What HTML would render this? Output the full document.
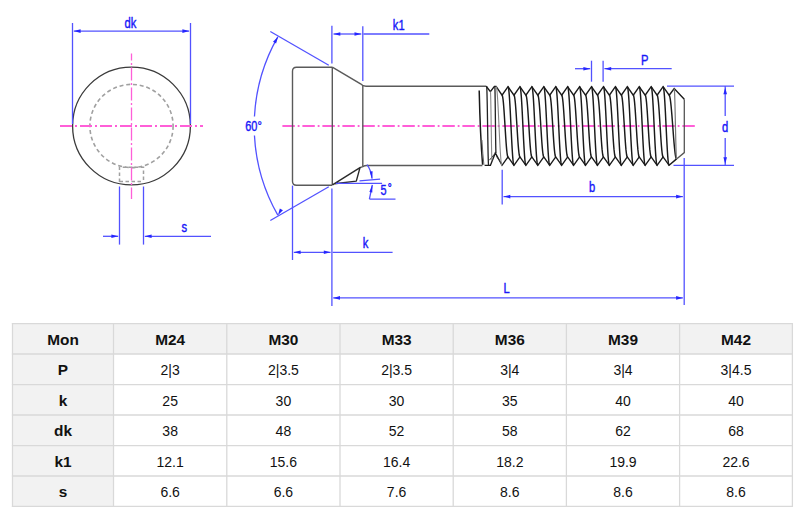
<!DOCTYPE html>
<html><head><meta charset="utf-8"><style>
html,body{margin:0;padding:0;background:#fff;}
body{width:800px;height:522px;overflow:hidden;}
svg{display:block;font-family:"Liberation Sans",sans-serif;}
</style></head><body>
<svg width="800" height="522" viewBox="0 0 800 522">
<rect width="800" height="522" fill="#fff"/>
<circle cx="131.5" cy="126" r="58.9" fill="none" stroke="#3a3a3a" stroke-width="1.3"/>
<circle cx="131.5" cy="126" r="41.6" fill="none" stroke="#a0a0a0" stroke-width="1.6" stroke-dasharray="4 2.8"/>
<path d="M119.5,182 V167.2 H143.5 V182 M119.5,181.6 H143.5" fill="none" stroke="#a0a0a0" stroke-width="1.5" stroke-dasharray="3.5 2.5"/>
<line x1="60" y1="126" x2="203" y2="126" stroke="#ff5fd8" stroke-width="1.8" stroke-dasharray="12 3 2 3"/>
<line x1="131.5" y1="53.4" x2="131.5" y2="199" stroke="#ff5fd8" stroke-width="1.3" stroke-dasharray="13 2.5 2 2.5" stroke-dashoffset="5.9"/>
<line x1="72.5" y1="23" x2="72.5" y2="124" stroke="#5252ff" stroke-width="1.3" />
<line x1="190.5" y1="23" x2="190.5" y2="124" stroke="#5252ff" stroke-width="1.3" />
<line x1="73.8" y1="31.1" x2="189.2" y2="31.1" stroke="#5252ff" stroke-width="1.3" />
<polygon points="73.80,31.10 80.60,29.30 80.60,32.90" fill="#2626ff"/>
<polygon points="189.20,31.10 182.40,32.90 182.40,29.30" fill="#2626ff"/>
<text transform="translate(130.5,27.5) scale(0.8,1)" font-size="14" fill="#1818f8" stroke="#1818f8" stroke-width="0.4" text-anchor="middle" font-weight="normal">dk</text>
<line x1="119.5" y1="186.5" x2="119.5" y2="244.6" stroke="#5252ff" stroke-width="1.3" />
<line x1="143.5" y1="186.5" x2="143.5" y2="244.6" stroke="#5252ff" stroke-width="1.3" />
<line x1="103" y1="236.3" x2="118.2" y2="236.3" stroke="#5252ff" stroke-width="1.3" />
<line x1="144.8" y1="236.3" x2="211" y2="236.3" stroke="#5252ff" stroke-width="1.3" />
<polygon points="118.20,236.30 111.40,238.10 111.40,234.50" fill="#2626ff"/>
<polygon points="144.80,236.30 151.60,234.50 151.60,238.10" fill="#2626ff"/>
<text transform="translate(184.4,232) scale(0.8,1)" font-size="14" fill="#1818f8" stroke="#1818f8" stroke-width="0.4" text-anchor="middle" font-weight="normal">s</text>
<line x1="282.4" y1="126" x2="696" y2="126" stroke="#ff5fd8" stroke-width="1.8" stroke-dasharray="12.4 2.9 1.8 2.9" stroke-dashoffset="0"/>
<path d="M332.3,67.2 H296.5 Q292.5,67.2 292.5,71.2 V181.3 Q292.5,185.3 296.5,185.3 H332.3" fill="none" stroke="#5a5a5a" stroke-width="1.4"/>
<line x1="332.3" y1="67.2" x2="332.3" y2="185" stroke="#5a5a5a" stroke-width="1.4" />
<path d="M332.3,67.2 L360.5,83.8 Q362.8,86.2 366,86.2 H486.2" fill="none" stroke="#5a5a5a" stroke-width="1.4"/>
<line x1="362.8" y1="85" x2="362.8" y2="166.6" stroke="#5a5a5a" stroke-width="1.4" />
<path d="M360,167.6 L362.8,166.6 Q364.5,165.5 367,165.5 H482.4" fill="none" stroke="#5a5a5a" stroke-width="1.4"/>
<path d="M332.5,184.8 L360,167.6 L356.3,181.1 L334.5,183.8" fill="none" stroke="#2a2a2a" stroke-width="1.4" stroke-linejoin="round"/>
<line x1="331.9" y1="25.8" x2="331.9" y2="63.5" stroke="#5252ff" stroke-width="1.3" />
<line x1="362.8" y1="26.2" x2="362.8" y2="81" stroke="#5252ff" stroke-width="1.3" />
<line x1="333.5" y1="34" x2="361.3" y2="34" stroke="#5252ff" stroke-width="1.3" />
<line x1="363.4" y1="34" x2="429.3" y2="34" stroke="#5252ff" stroke-width="1.3" />
<polygon points="333.50,34.00 340.30,32.20 340.30,35.80" fill="#2626ff"/>
<polygon points="361.30,34.00 354.50,35.80 354.50,32.20" fill="#2626ff"/>
<text transform="translate(398.7,29.5) scale(0.8,1)" font-size="14" fill="#1818f8" stroke="#1818f8" stroke-width="0.4" text-anchor="middle" font-weight="normal">k1</text>
<line x1="328.78" y1="65.25" x2="270.32" y2="31.5" stroke="#5252ff" stroke-width="1.3" />
<line x1="328.78" y1="186.75" x2="270.32" y2="220.5" stroke="#5252ff" stroke-width="1.3" />
<path d="M277.82,36.92 A179.8,179.8 0 0 0 254.45,116.59" fill="none" stroke="#5252ff" stroke-width="1.3"/>
<path d="M254.45,135.41 A179.8,179.8 0 0 0 277.82,215.08" fill="none" stroke="#5252ff" stroke-width="1.3"/>
<polygon points="277.98,36.64 276.13,43.43 273.02,41.63" fill="#2626ff"/>
<polygon points="277.98,215.36 279.82,208.57 282.93,210.37" fill="#2626ff"/>
<text transform="translate(253.5,131) scale(0.78,1)" font-size="14" fill="#1818f8" stroke="#1818f8" stroke-width="0.4" text-anchor="middle" font-weight="normal">60°</text>
<line x1="335.8" y1="183.3" x2="382.1" y2="183.3" stroke="#5252ff" stroke-width="1.3" />
<line x1="359.5" y1="180.9" x2="380.1" y2="179.2" stroke="#5252ff" stroke-width="1.3" />
<path d="M367,164.6 Q371.3,170.5 372,178.5" fill="none" stroke="#5252ff" stroke-width="1.3"/>
<polygon points="372.10,179.30 369.66,171.54 372.64,171.18" fill="#2626ff"/>
<path d="M369.4,199.1 L372.3,185 M369.4,199.1 H395.5" fill="none" stroke="#5252ff" stroke-width="1.3"/>
<polygon points="372.40,184.40 372.30,192.54 369.36,191.95" fill="#2626ff"/>
<text transform="translate(383.5,194.8) scale(0.78,1)" font-size="14" fill="#1818f8" stroke="#1818f8" stroke-width="0.4" text-anchor="middle" font-weight="normal">5</text>
<text transform="translate(389.8,191) scale(0.9,1)" font-size="11" fill="#1818f8" stroke="#1818f8" stroke-width="0.4" text-anchor="middle" font-weight="normal">°</text>
<line x1="292.5" y1="185.6" x2="292.5" y2="260" stroke="#5252ff" stroke-width="1.3" />
<line x1="331.9" y1="188.5" x2="331.9" y2="306" stroke="#5252ff" stroke-width="1.3" />
<line x1="293.8" y1="252.3" x2="330.6" y2="252.3" stroke="#5252ff" stroke-width="1.3" />
<line x1="332.6" y1="252.3" x2="392.6" y2="252.3" stroke="#5252ff" stroke-width="1.3" />
<polygon points="293.80,252.30 300.60,250.50 300.60,254.10" fill="#2626ff"/>
<polygon points="330.60,252.30 323.80,254.10 323.80,250.50" fill="#2626ff"/>
<text transform="translate(365.5,248) scale(0.8,1)" font-size="14" fill="#1818f8" stroke="#1818f8" stroke-width="0.4" text-anchor="middle" font-weight="normal">k</text>
<line x1="333.2" y1="297.9" x2="682.9" y2="297.9" stroke="#5252ff" stroke-width="1.3" />
<polygon points="333.20,297.90 340.00,296.10 340.00,299.70" fill="#2626ff"/>
<polygon points="682.90,297.90 676.10,299.70 676.10,296.10" fill="#2626ff"/>
<text transform="translate(506.7,292.7) scale(0.8,1)" font-size="14" fill="#1818f8" stroke="#1818f8" stroke-width="0.4" text-anchor="middle" font-weight="normal">L</text>
<line x1="684.2" y1="158" x2="684.2" y2="305" stroke="#5252ff" stroke-width="1.3" />
<line x1="502.2" y1="169.7" x2="502.2" y2="204.5" stroke="#5252ff" stroke-width="1.3" />
<line x1="503.5" y1="196.6" x2="682.9" y2="196.6" stroke="#5252ff" stroke-width="1.3" />
<polygon points="503.50,196.60 510.30,194.80 510.30,198.40" fill="#2626ff"/>
<polygon points="682.90,196.60 676.10,198.40 676.10,194.80" fill="#2626ff"/>
<text transform="translate(592,192) scale(0.8,1)" font-size="14" fill="#1818f8" stroke="#1818f8" stroke-width="0.4" text-anchor="middle" font-weight="normal">b</text>
<line x1="667" y1="86.1" x2="734" y2="86.1" stroke="#5252ff" stroke-width="1.3" />
<line x1="673.5" y1="165.4" x2="734" y2="165.4" stroke="#5252ff" stroke-width="1.3" />
<line x1="725.2" y1="86.1" x2="725.2" y2="116" stroke="#5252ff" stroke-width="1.3" />
<line x1="725.2" y1="138" x2="725.2" y2="165.4" stroke="#5252ff" stroke-width="1.3" />
<polygon points="725.20,87.40 727.00,94.20 723.40,94.20" fill="#2626ff"/>
<polygon points="725.20,164.10 723.40,157.30 727.00,157.30" fill="#2626ff"/>
<text transform="translate(725,131.5) scale(0.8,1)" font-size="14" fill="#1818f8" stroke="#1818f8" stroke-width="0.4" text-anchor="middle" font-weight="normal">d</text>
<line x1="591.5" y1="60.7" x2="591.5" y2="81.7" stroke="#5252ff" stroke-width="1.3" />
<line x1="603.1" y1="60.7" x2="603.1" y2="81.7" stroke="#5252ff" stroke-width="1.3" />
<line x1="575" y1="68.7" x2="590.2" y2="68.7" stroke="#5252ff" stroke-width="1.3" />
<line x1="604.4" y1="68.7" x2="671.7" y2="68.7" stroke="#5252ff" stroke-width="1.3" />
<polygon points="590.20,68.70 583.40,70.50 583.40,66.90" fill="#2626ff"/>
<polygon points="604.40,68.70 611.20,66.90 611.20,70.50" fill="#2626ff"/>
<text transform="translate(644.7,64.5) scale(0.8,1)" font-size="14" fill="#1818f8" stroke="#1818f8" stroke-width="0.4" text-anchor="middle" font-weight="normal">P</text>
<polyline points="486.20,86.30 490.40,91.60 494.40,86.40 496.10,86.40 502.04,95.20 508.00,86.70 513.96,95.20 519.93,86.70 525.89,95.20 531.86,86.70 537.82,95.20 543.79,86.70 549.75,95.20 555.72,86.70 561.68,95.20 567.65,86.70 573.61,95.20 579.58,86.70 585.54,95.20 591.51,86.70 597.48,95.20 603.44,86.70 609.40,95.20 615.37,86.70 621.33,95.20 627.30,86.70 633.26,95.20 639.23,86.70 645.19,95.20 651.16,86.70 657.12,95.20 663.09,86.70 669.20,95.20 674.20,88.60 684.30,99.20" fill="none" stroke="#1a1a1a" stroke-width="1.4" stroke-linejoin="miter"/>
<path d="M684.3,99.2 V152.6 L676.6,158.9" fill="none" stroke="#555" stroke-width="1.3"/>
<polyline points="484.60,165.40 490.40,165.40 495.30,153.00 502.03,165.30 508.00,156.90 513.97,165.30 519.93,156.90 525.89,165.30 531.86,156.90 537.83,165.30 543.79,156.90 549.75,165.30 555.72,156.90 561.69,165.30 567.65,156.90 573.62,165.30 579.58,156.90 585.54,165.30 591.51,156.90 597.48,165.30 603.44,156.90 609.41,165.30 615.37,156.90 621.34,165.30 627.30,156.90 633.26,165.30 639.23,156.90 645.20,165.30 651.16,156.90 657.12,165.30 663.09,156.90 669.10,165.30 676.60,158.90" fill="none" stroke="#1a1a1a" stroke-width="1.4"/>
<path d="M489.4,160.2 L494.4,154.2 M496.4,156.4 L501.3,162.8" fill="none" stroke="#333" stroke-width="1"/>
<path d="M502.03,95.20 L502.37,95.67 L502.70,97.06 L503.03,99.33 L503.36,102.42 L503.69,106.22 L504.02,110.62 L504.35,115.50 L504.69,120.69 L505.02,126.05 L505.35,131.41 L505.68,136.60 L506.01,141.47 L506.34,145.88 L506.67,149.68 L507.01,152.77 L507.34,155.04 L507.67,156.43 L508.00,156.90 M508.00,86.70 L508.33,87.30 L508.66,89.07 L508.99,91.97 L509.33,95.89 L509.66,100.74 L509.99,106.35 L510.32,112.56 L510.65,119.18 L510.98,126.00 L511.31,132.82 L511.65,139.44 L511.98,145.65 L512.31,151.26 L512.64,156.11 L512.97,160.03 L513.30,162.93 L513.63,164.70 L513.97,165.30 M513.97,95.20 L514.30,95.67 L514.63,97.06 L514.96,99.33 L515.29,102.42 L515.62,106.22 L515.95,110.62 L516.28,115.50 L516.62,120.69 L516.95,126.05 L517.28,131.41 L517.61,136.60 L517.94,141.47 L518.27,145.88 L518.60,149.68 L518.94,152.77 L519.27,155.04 L519.60,156.43 L519.93,156.90 M519.93,86.70 L520.26,87.30 L520.59,89.07 L520.92,91.97 L521.26,95.89 L521.59,100.74 L521.92,106.35 L522.25,112.56 L522.58,119.18 L522.91,126.00 L523.24,132.82 L523.58,139.44 L523.91,145.65 L524.24,151.26 L524.57,156.11 L524.90,160.03 L525.23,162.93 L525.56,164.70 L525.89,165.30 M525.89,95.20 L526.23,95.67 L526.56,97.06 L526.89,99.33 L527.22,102.42 L527.55,106.22 L527.88,110.62 L528.21,115.50 L528.55,120.69 L528.88,126.05 L529.21,131.41 L529.54,136.60 L529.87,141.47 L530.20,145.88 L530.53,149.68 L530.87,152.77 L531.20,155.04 L531.53,156.43 L531.86,156.90 M531.86,86.70 L532.19,87.30 L532.52,89.07 L532.85,91.97 L533.19,95.89 L533.52,100.74 L533.85,106.35 L534.18,112.56 L534.51,119.18 L534.84,126.00 L535.17,132.82 L535.51,139.44 L535.84,145.65 L536.17,151.26 L536.50,156.11 L536.83,160.03 L537.16,162.93 L537.49,164.70 L537.83,165.30 M537.83,95.20 L538.16,95.67 L538.49,97.06 L538.82,99.33 L539.15,102.42 L539.48,106.22 L539.81,110.62 L540.14,115.50 L540.48,120.69 L540.81,126.05 L541.14,131.41 L541.47,136.60 L541.80,141.47 L542.13,145.88 L542.46,149.68 L542.80,152.77 L543.13,155.04 L543.46,156.43 L543.79,156.90 M543.79,86.70 L544.12,87.30 L544.45,89.07 L544.78,91.97 L545.12,95.89 L545.45,100.74 L545.78,106.35 L546.11,112.56 L546.44,119.18 L546.77,126.00 L547.10,132.82 L547.44,139.44 L547.77,145.65 L548.10,151.26 L548.43,156.11 L548.76,160.03 L549.09,162.93 L549.42,164.70 L549.75,165.30 M549.75,95.20 L550.09,95.67 L550.42,97.06 L550.75,99.33 L551.08,102.42 L551.41,106.22 L551.74,110.62 L552.07,115.50 L552.41,120.69 L552.74,126.05 L553.07,131.41 L553.40,136.60 L553.73,141.47 L554.06,145.88 L554.39,149.68 L554.73,152.77 L555.06,155.04 L555.39,156.43 L555.72,156.90 M555.72,86.70 L556.05,87.30 L556.38,89.07 L556.71,91.97 L557.05,95.89 L557.38,100.74 L557.71,106.35 L558.04,112.56 L558.37,119.18 L558.70,126.00 L559.03,132.82 L559.37,139.44 L559.70,145.65 L560.03,151.26 L560.36,156.11 L560.69,160.03 L561.02,162.93 L561.35,164.70 L561.69,165.30 M561.69,95.20 L562.02,95.67 L562.35,97.06 L562.68,99.33 L563.01,102.42 L563.34,106.22 L563.67,110.62 L564.00,115.50 L564.34,120.69 L564.67,126.05 L565.00,131.41 L565.33,136.60 L565.66,141.47 L565.99,145.88 L566.32,149.68 L566.66,152.77 L566.99,155.04 L567.32,156.43 L567.65,156.90 M567.65,86.70 L567.98,87.30 L568.31,89.07 L568.64,91.97 L568.98,95.89 L569.31,100.74 L569.64,106.35 L569.97,112.56 L570.30,119.18 L570.63,126.00 L570.96,132.82 L571.30,139.44 L571.63,145.65 L571.96,151.26 L572.29,156.11 L572.62,160.03 L572.95,162.93 L573.28,164.70 L573.62,165.30 M573.62,95.20 L573.95,95.67 L574.28,97.06 L574.61,99.33 L574.94,102.42 L575.27,106.22 L575.60,110.62 L575.93,115.50 L576.27,120.69 L576.60,126.05 L576.93,131.41 L577.26,136.60 L577.59,141.47 L577.92,145.88 L578.25,149.68 L578.59,152.77 L578.92,155.04 L579.25,156.43 L579.58,156.90 M579.58,86.70 L579.91,87.30 L580.24,89.07 L580.57,91.97 L580.91,95.89 L581.24,100.74 L581.57,106.35 L581.90,112.56 L582.23,119.18 L582.56,126.00 L582.89,132.82 L583.23,139.44 L583.56,145.65 L583.89,151.26 L584.22,156.11 L584.55,160.03 L584.88,162.93 L585.21,164.70 L585.54,165.30 M585.54,95.20 L585.88,95.67 L586.21,97.06 L586.54,99.33 L586.87,102.42 L587.20,106.22 L587.53,110.62 L587.86,115.50 L588.20,120.69 L588.53,126.05 L588.86,131.41 L589.19,136.60 L589.52,141.47 L589.85,145.88 L590.18,149.68 L590.52,152.77 L590.85,155.04 L591.18,156.43 L591.51,156.90 M591.51,86.70 L591.84,87.30 L592.17,89.07 L592.50,91.97 L592.84,95.89 L593.17,100.74 L593.50,106.35 L593.83,112.56 L594.16,119.18 L594.49,126.00 L594.82,132.82 L595.16,139.44 L595.49,145.65 L595.82,151.26 L596.15,156.11 L596.48,160.03 L596.81,162.93 L597.14,164.70 L597.48,165.30 M597.48,95.20 L597.81,95.67 L598.14,97.06 L598.47,99.33 L598.80,102.42 L599.13,106.22 L599.46,110.62 L599.79,115.50 L600.13,120.69 L600.46,126.05 L600.79,131.41 L601.12,136.60 L601.45,141.47 L601.78,145.88 L602.11,149.68 L602.45,152.77 L602.78,155.04 L603.11,156.43 L603.44,156.90 M603.44,86.70 L603.77,87.30 L604.10,89.07 L604.43,91.97 L604.77,95.89 L605.10,100.74 L605.43,106.35 L605.76,112.56 L606.09,119.18 L606.42,126.00 L606.75,132.82 L607.09,139.44 L607.42,145.65 L607.75,151.26 L608.08,156.11 L608.41,160.03 L608.74,162.93 L609.07,164.70 L609.41,165.30 M609.41,95.20 L609.74,95.67 L610.07,97.06 L610.40,99.33 L610.73,102.42 L611.06,106.22 L611.39,110.62 L611.72,115.50 L612.06,120.69 L612.39,126.05 L612.72,131.41 L613.05,136.60 L613.38,141.47 L613.71,145.88 L614.04,149.68 L614.38,152.77 L614.71,155.04 L615.04,156.43 L615.37,156.90 M615.37,86.70 L615.70,87.30 L616.03,89.07 L616.36,91.97 L616.70,95.89 L617.03,100.74 L617.36,106.35 L617.69,112.56 L618.02,119.18 L618.35,126.00 L618.68,132.82 L619.02,139.44 L619.35,145.65 L619.68,151.26 L620.01,156.11 L620.34,160.03 L620.67,162.93 L621.00,164.70 L621.34,165.30 M621.34,95.20 L621.67,95.67 L622.00,97.06 L622.33,99.33 L622.66,102.42 L622.99,106.22 L623.32,110.62 L623.65,115.50 L623.99,120.69 L624.32,126.05 L624.65,131.41 L624.98,136.60 L625.31,141.47 L625.64,145.88 L625.97,149.68 L626.31,152.77 L626.64,155.04 L626.97,156.43 L627.30,156.90 M627.30,86.70 L627.63,87.30 L627.96,89.07 L628.29,91.97 L628.63,95.89 L628.96,100.74 L629.29,106.35 L629.62,112.56 L629.95,119.18 L630.28,126.00 L630.61,132.82 L630.95,139.44 L631.28,145.65 L631.61,151.26 L631.94,156.11 L632.27,160.03 L632.60,162.93 L632.93,164.70 L633.26,165.30 M633.26,95.20 L633.60,95.67 L633.93,97.06 L634.26,99.33 L634.59,102.42 L634.92,106.22 L635.25,110.62 L635.58,115.50 L635.92,120.69 L636.25,126.05 L636.58,131.41 L636.91,136.60 L637.24,141.47 L637.57,145.88 L637.90,149.68 L638.24,152.77 L638.57,155.04 L638.90,156.43 L639.23,156.90 M639.23,86.70 L639.56,87.30 L639.89,89.07 L640.22,91.97 L640.56,95.89 L640.89,100.74 L641.22,106.35 L641.55,112.56 L641.88,119.18 L642.21,126.00 L642.54,132.82 L642.88,139.44 L643.21,145.65 L643.54,151.26 L643.87,156.11 L644.20,160.03 L644.53,162.93 L644.86,164.70 L645.20,165.30 M645.20,95.20 L645.53,95.67 L645.86,97.06 L646.19,99.33 L646.52,102.42 L646.85,106.22 L647.18,110.62 L647.51,115.50 L647.85,120.69 L648.18,126.05 L648.51,131.41 L648.84,136.60 L649.17,141.47 L649.50,145.88 L649.83,149.68 L650.17,152.77 L650.50,155.04 L650.83,156.43 L651.16,156.90 M651.16,86.70 L651.49,87.30 L651.82,89.07 L652.15,91.97 L652.49,95.89 L652.82,100.74 L653.15,106.35 L653.48,112.56 L653.81,119.18 L654.14,126.00 L654.47,132.82 L654.81,139.44 L655.14,145.65 L655.47,151.26 L655.80,156.11 L656.13,160.03 L656.46,162.93 L656.79,164.70 L657.12,165.30 M657.12,95.20 L657.46,95.67 L657.79,97.06 L658.12,99.33 L658.45,102.42 L658.78,106.22 L659.11,110.62 L659.44,115.50 L659.78,120.69 L660.11,126.05 L660.44,131.41 L660.77,136.60 L661.10,141.47 L661.43,145.88 L661.76,149.68 L662.10,152.77 L662.43,155.04 L662.76,156.43 L663.09,156.90 M663.09,86.70 L663.42,87.30 L663.75,89.07 L664.08,91.97 L664.42,95.89 L664.75,100.74 L665.08,106.35 L665.41,112.56 L665.74,119.18 L666.07,126.00 L666.40,132.82 L666.74,139.44 L667.07,145.65 L667.40,151.26 L667.73,156.11 L668.06,160.03 L668.39,162.93 L668.72,164.70 L669.05,165.30 M669.05,95.20 L669.47,95.68 L669.89,97.12 L670.30,99.47 L670.72,102.65 L671.14,106.58 L671.55,111.12 L671.97,116.16 L672.39,121.52 L672.80,127.05 L673.22,132.58 L673.64,137.94 L674.05,142.97 L674.47,147.52 L674.89,151.45 L675.30,154.63 L675.72,156.98 L676.14,158.42 L676.55,158.90" fill="none" stroke="#1a1a1a" stroke-width="1.45"/>
<path d="M486.60,86.30 L486.71,86.90 L486.82,88.69 L486.93,91.60 L487.04,95.55 L487.16,100.43 L487.27,106.07 L487.38,112.32 L487.49,118.98 L487.60,125.85 L487.71,132.72 L487.82,139.38 L487.93,145.62 L488.04,151.27 L488.16,156.15 L488.27,160.10 L488.38,163.01 L488.49,164.80 L488.60,165.40 M494.80,86.40 L494.87,86.91 L494.93,88.41 L495.00,90.86 L495.07,94.19 L495.13,98.30 L495.20,103.05 L495.27,108.31 L495.33,113.92 L495.40,119.70 L495.47,125.48 L495.53,131.09 L495.60,136.35 L495.67,141.10 L495.73,145.21 L495.80,148.54 L495.87,150.99 L495.93,152.49 L496.00,153.00" fill="none" stroke="#222" stroke-width="1.3"/>
<path d="M490.40,91.60 L490.49,92.12 L490.58,93.67 L490.67,96.21 L490.76,99.65 L490.84,103.89 L490.93,108.80 L491.02,114.23 L491.11,120.03 L491.20,126.00 L491.29,131.97 L491.38,137.77 L491.47,143.20 L491.56,148.11 L491.64,152.35 L491.73,155.79 L491.82,158.33 L491.91,159.88 L492.00,160.40 M496.10,86.40 L496.42,87.00 L496.74,88.78 L497.07,91.69 L497.39,95.64 L497.71,100.51 L498.03,106.15 L498.36,112.39 L498.68,119.04 L499.00,125.90 L499.32,132.76 L499.64,139.41 L499.97,145.65 L500.29,151.29 L500.61,156.16 L500.93,160.11 L501.26,163.02 L501.58,164.80 L501.90,165.40" fill="none" stroke="#888" stroke-width="1.1"/>
<path d="M674.20,88.60 L674.33,89.13 L674.47,90.72 L674.60,93.31 L674.73,96.82 L674.87,101.16 L675.00,106.17 L675.13,111.73 L675.27,117.65 L675.40,123.75 L675.53,129.85 L675.67,135.77 L675.80,141.32 L675.93,146.34 L676.07,150.68 L676.20,154.19 L676.33,156.78 L676.47,158.37 L676.60,158.90" fill="none" stroke="#777" stroke-width="1.2"/>
<path d="M479.2,90.6 Q480.2,135 482.6,164.8" fill="none" stroke="#1a1a1a" stroke-width="1.5"/>
<path d="M481.9,140 Q482.8,155 483.9,164.8" fill="none" stroke="#666" stroke-width="1"/>
<rect x="12.5" y="323.6" width="779.9" height="30.399999999999977" fill="#f2f2f2"/>
<rect x="12.5" y="323.6" width="101.0" height="182.7" fill="#f2f2f2"/>
<line x1="12.5" y1="323.0" x2="12.5" y2="506.90000000000003" stroke="#d9d9d9" stroke-width="1.3"/>
<line x1="113.5" y1="323.0" x2="113.5" y2="506.90000000000003" stroke="#d9d9d9" stroke-width="1.3"/>
<line x1="226.8" y1="323.0" x2="226.8" y2="506.90000000000003" stroke="#d9d9d9" stroke-width="1.3"/>
<line x1="340.0" y1="323.0" x2="340.0" y2="506.90000000000003" stroke="#d9d9d9" stroke-width="1.3"/>
<line x1="453.2" y1="323.0" x2="453.2" y2="506.90000000000003" stroke="#d9d9d9" stroke-width="1.3"/>
<line x1="566.4" y1="323.0" x2="566.4" y2="506.90000000000003" stroke="#d9d9d9" stroke-width="1.3"/>
<line x1="679.6" y1="323.0" x2="679.6" y2="506.90000000000003" stroke="#d9d9d9" stroke-width="1.3"/>
<line x1="792.4" y1="323.0" x2="792.4" y2="506.90000000000003" stroke="#d9d9d9" stroke-width="1.3"/>
<line x1="11.9" y1="323.6" x2="793.0" y2="323.6" stroke="#d9d9d9" stroke-width="1.3"/>
<line x1="11.9" y1="354.0" x2="793.0" y2="354.0" stroke="#d9d9d9" stroke-width="1.3"/>
<line x1="11.9" y1="384.6" x2="793.0" y2="384.6" stroke="#d9d9d9" stroke-width="1.3"/>
<line x1="11.9" y1="415.0" x2="793.0" y2="415.0" stroke="#d9d9d9" stroke-width="1.3"/>
<line x1="11.9" y1="445.6" x2="793.0" y2="445.6" stroke="#d9d9d9" stroke-width="1.3"/>
<line x1="11.9" y1="476.0" x2="793.0" y2="476.0" stroke="#d9d9d9" stroke-width="1.3"/>
<line x1="11.9" y1="506.3" x2="793.0" y2="506.3" stroke="#d9d9d9" stroke-width="1.3"/>
<text transform="translate(63.00,344.60) scale(1.1,1)" font-size="14" text-anchor="middle" fill="#111" font-weight="bold">Mon</text>
<text transform="translate(170.15,344.60) scale(1.1,1)" font-size="14" text-anchor="middle" fill="#111" font-weight="bold">M24</text>
<text transform="translate(283.40,344.60) scale(1.1,1)" font-size="14" text-anchor="middle" fill="#111" font-weight="bold">M30</text>
<text transform="translate(396.60,344.60) scale(1.1,1)" font-size="14" text-anchor="middle" fill="#111" font-weight="bold">M33</text>
<text transform="translate(509.80,344.60) scale(1.1,1)" font-size="14" text-anchor="middle" fill="#111" font-weight="bold">M36</text>
<text transform="translate(623.00,344.60) scale(1.1,1)" font-size="14" text-anchor="middle" fill="#111" font-weight="bold">M39</text>
<text transform="translate(736.00,344.60) scale(1.1,1)" font-size="14" text-anchor="middle" fill="#111" font-weight="bold">M42</text>
<text transform="translate(63.00,375.10) scale(1.1,1)" font-size="14" text-anchor="middle" fill="#111" font-weight="bold">P</text>
<text transform="translate(170.15,375.10) scale(1.0,1)" font-size="14" text-anchor="middle" fill="#111" font-weight="normal">2|3</text>
<text transform="translate(283.40,375.10) scale(1.0,1)" font-size="14" text-anchor="middle" fill="#111" font-weight="normal">2|3.5</text>
<text transform="translate(396.60,375.10) scale(1.0,1)" font-size="14" text-anchor="middle" fill="#111" font-weight="normal">2|3.5</text>
<text transform="translate(509.80,375.10) scale(1.0,1)" font-size="14" text-anchor="middle" fill="#111" font-weight="normal">3|4</text>
<text transform="translate(623.00,375.10) scale(1.0,1)" font-size="14" text-anchor="middle" fill="#111" font-weight="normal">3|4</text>
<text transform="translate(736.00,375.10) scale(1.0,1)" font-size="14" text-anchor="middle" fill="#111" font-weight="normal">3|4.5</text>
<text transform="translate(63.00,405.60) scale(1.1,1)" font-size="14" text-anchor="middle" fill="#111" font-weight="bold">k</text>
<text transform="translate(170.15,405.60) scale(1.0,1)" font-size="14" text-anchor="middle" fill="#111" font-weight="normal">25</text>
<text transform="translate(283.40,405.60) scale(1.0,1)" font-size="14" text-anchor="middle" fill="#111" font-weight="normal">30</text>
<text transform="translate(396.60,405.60) scale(1.0,1)" font-size="14" text-anchor="middle" fill="#111" font-weight="normal">30</text>
<text transform="translate(509.80,405.60) scale(1.0,1)" font-size="14" text-anchor="middle" fill="#111" font-weight="normal">35</text>
<text transform="translate(623.00,405.60) scale(1.0,1)" font-size="14" text-anchor="middle" fill="#111" font-weight="normal">40</text>
<text transform="translate(736.00,405.60) scale(1.0,1)" font-size="14" text-anchor="middle" fill="#111" font-weight="normal">40</text>
<text transform="translate(63.00,436.10) scale(1.1,1)" font-size="14" text-anchor="middle" fill="#111" font-weight="bold">dk</text>
<text transform="translate(170.15,436.10) scale(1.0,1)" font-size="14" text-anchor="middle" fill="#111" font-weight="normal">38</text>
<text transform="translate(283.40,436.10) scale(1.0,1)" font-size="14" text-anchor="middle" fill="#111" font-weight="normal">48</text>
<text transform="translate(396.60,436.10) scale(1.0,1)" font-size="14" text-anchor="middle" fill="#111" font-weight="normal">52</text>
<text transform="translate(509.80,436.10) scale(1.0,1)" font-size="14" text-anchor="middle" fill="#111" font-weight="normal">58</text>
<text transform="translate(623.00,436.10) scale(1.0,1)" font-size="14" text-anchor="middle" fill="#111" font-weight="normal">62</text>
<text transform="translate(736.00,436.10) scale(1.0,1)" font-size="14" text-anchor="middle" fill="#111" font-weight="normal">68</text>
<text transform="translate(63.00,466.60) scale(1.1,1)" font-size="14" text-anchor="middle" fill="#111" font-weight="bold">k1</text>
<text transform="translate(170.15,466.60) scale(1.0,1)" font-size="14" text-anchor="middle" fill="#111" font-weight="normal">12.1</text>
<text transform="translate(283.40,466.60) scale(1.0,1)" font-size="14" text-anchor="middle" fill="#111" font-weight="normal">15.6</text>
<text transform="translate(396.60,466.60) scale(1.0,1)" font-size="14" text-anchor="middle" fill="#111" font-weight="normal">16.4</text>
<text transform="translate(509.80,466.60) scale(1.0,1)" font-size="14" text-anchor="middle" fill="#111" font-weight="normal">18.2</text>
<text transform="translate(623.00,466.60) scale(1.0,1)" font-size="14" text-anchor="middle" fill="#111" font-weight="normal">19.9</text>
<text transform="translate(736.00,466.60) scale(1.0,1)" font-size="14" text-anchor="middle" fill="#111" font-weight="normal">22.6</text>
<text transform="translate(63.00,496.95) scale(1.1,1)" font-size="14" text-anchor="middle" fill="#111" font-weight="bold">s</text>
<text transform="translate(170.15,496.95) scale(1.0,1)" font-size="14" text-anchor="middle" fill="#111" font-weight="normal">6.6</text>
<text transform="translate(283.40,496.95) scale(1.0,1)" font-size="14" text-anchor="middle" fill="#111" font-weight="normal">6.6</text>
<text transform="translate(396.60,496.95) scale(1.0,1)" font-size="14" text-anchor="middle" fill="#111" font-weight="normal">7.6</text>
<text transform="translate(509.80,496.95) scale(1.0,1)" font-size="14" text-anchor="middle" fill="#111" font-weight="normal">8.6</text>
<text transform="translate(623.00,496.95) scale(1.0,1)" font-size="14" text-anchor="middle" fill="#111" font-weight="normal">8.6</text>
<text transform="translate(736.00,496.95) scale(1.0,1)" font-size="14" text-anchor="middle" fill="#111" font-weight="normal">8.6</text>
</svg>
</body></html>
